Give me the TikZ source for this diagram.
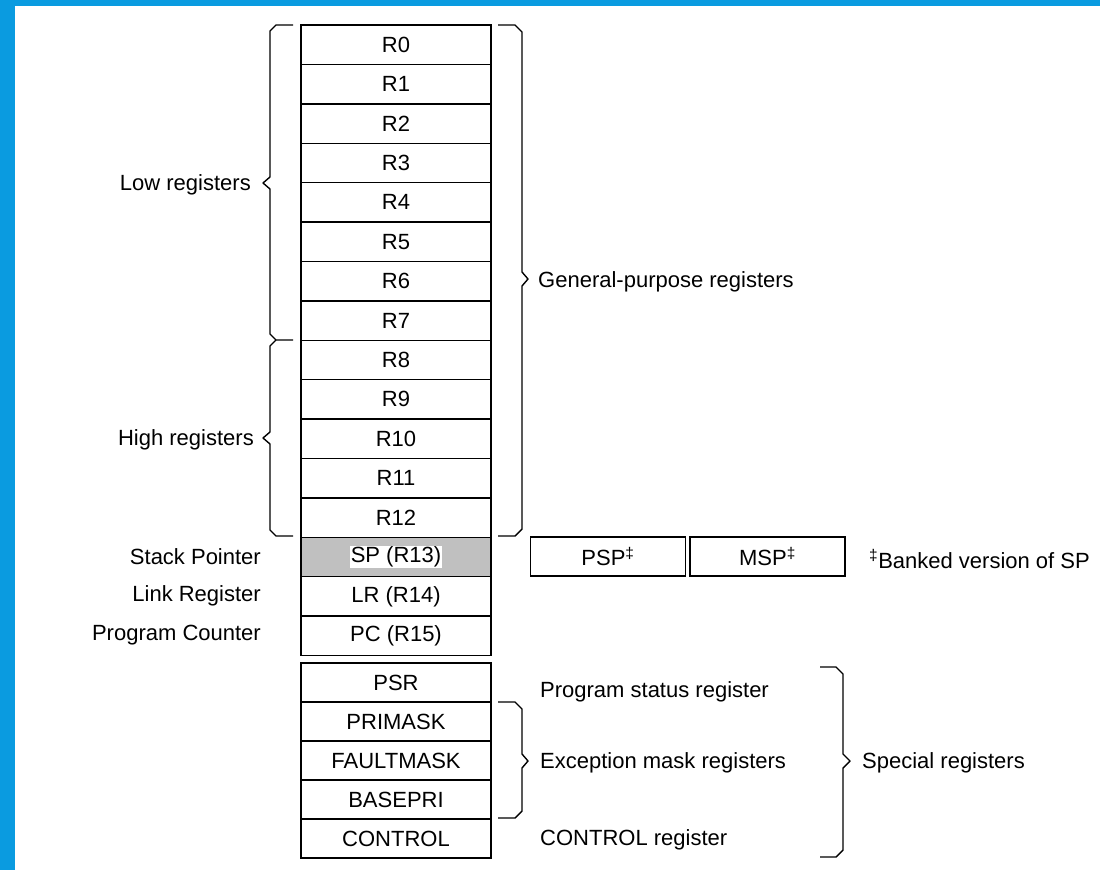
\documentclass[tikz,border=0pt]{standalone}
\usepackage{fontspec}
\setmainfont{Liberation Sans}
\definecolor{frameblue}{HTML}{0A9BE0}
\definecolor{spgray}{HTML}{C0C0C0}
\begin{document}
\begin{tikzpicture}[x=1pt,y=-1pt,
  reg/.style={draw, line width=1.4pt, minimum width=190pt, minimum height=39.4pt, inner sep=0pt, font=\fontsize{22}{25}\selectfont},
  sreg/.style={reg, minimum height=39pt},
  bank/.style={draw, line width=1.2pt, minimum width=155pt, minimum height=39pt, inner sep=0pt, font=\fontsize{22}{25}\selectfont},
  lbl/.style={inner sep=0pt, font=\fontsize{22}{25}\selectfont},
  brace/.style={line width=1.4pt, line join=round}]
\useasboundingbox (0,0) rectangle (1100,870);
\fill[white] (0,0) rectangle (1100,870);
\fill[frameblue] (0,0) rectangle (15,870);
\fill[frameblue] (0,0) rectangle (1100,6);

% general purpose registers
\foreach \i in {0,...,12} {
  \node[reg] (r\i) at (396, {25+19.7+39.4*\i}) {R\i};
}
\node[reg, fill=spgray] (sp) at (396, {25+19.7+39.4*13}) {};
\node[lbl, fill=white, inner sep=1pt] (sptxt) at (sp.center) {SP (R13)};
\node[reg] (lr) at (396, {25+19.7+39.4*14}) {LR (R14)};
\node[reg] (pc) at (396, {25+19.7+39.4*15}) {PC (R15)};

% special registers
\node[sreg] (psr) at (396, 682.5) {PSR};
\node[sreg] (primask) at (396, 721.5) {PRIMASK};
\node[sreg] (faultmask) at (396, 760.5) {FAULTMASK};
\node[sreg] (basepri) at (396, 799.5) {BASEPRI};
\node[sreg] (control) at (396, 838.5) {CONTROL};

% banked SP
\node[bank] (psp) at (608, 556.5) {PSP\textsuperscript{‡}};
\node[bank] (msp) at (767.5, 556.5) {MSP\textsuperscript{‡}};
\node[lbl, anchor=west] (banked) at (869, 559) {\textsuperscript{‡}Banked version of SP};

% left labels
\node[lbl, anchor=east] (low) at (251, 185) {Low registers};
\node[lbl, anchor=east] (high) at (254, 440) {High registers};
\node[lbl, anchor=east] (splbl) at (261, 557) {Stack Pointer};
\node[lbl, anchor=east] (lrlbl) at (261, 596) {Link Register};
\node[lbl, anchor=east] (pclbl) at (261, 635) {Program Counter};

% right labels
\node[lbl, anchor=west] (gp) at (538, 282) {General-purpose registers};
\node[lbl, anchor=west] (psrlbl) at (540, 692) {Program status register};
\node[lbl, anchor=west] (exc) at (540, 763) {Exception mask registers};
\node[lbl, anchor=west] (ctl) at (540, 840) {CONTROL register};
\node[lbl, anchor=west] (spec) at (862, 763) {Special registers};

% braces (left, tip pointing left)
\draw[brace] (293,25) -- (276,25) -- (270,31) -- (270,177) -- (263,183) -- (270,189) -- (270,334) -- (276,340) -- (293,340);
\draw[brace] (276,340) -- (270,346) -- (270,432) -- (263,438) -- (270,444) -- (270,530) -- (276,536) -- (293,536);
% right braces (tip pointing right)
\draw[brace] (498,25) -- (515,25) -- (522,32) -- (522,272) -- (528,279) -- (522,286) -- (522,529) -- (515,536) -- (498,536);
\draw[brace] (498,702) -- (515,702) -- (522,709) -- (522,754) -- (528,761) -- (522,768) -- (522,811) -- (515,818) -- (498,818);
\draw[brace] (820,667) -- (836,667) -- (843,674) -- (843,754) -- (850,761) -- (843,768) -- (843,850) -- (836,857) -- (820,857);
\end{tikzpicture}
\end{document}
